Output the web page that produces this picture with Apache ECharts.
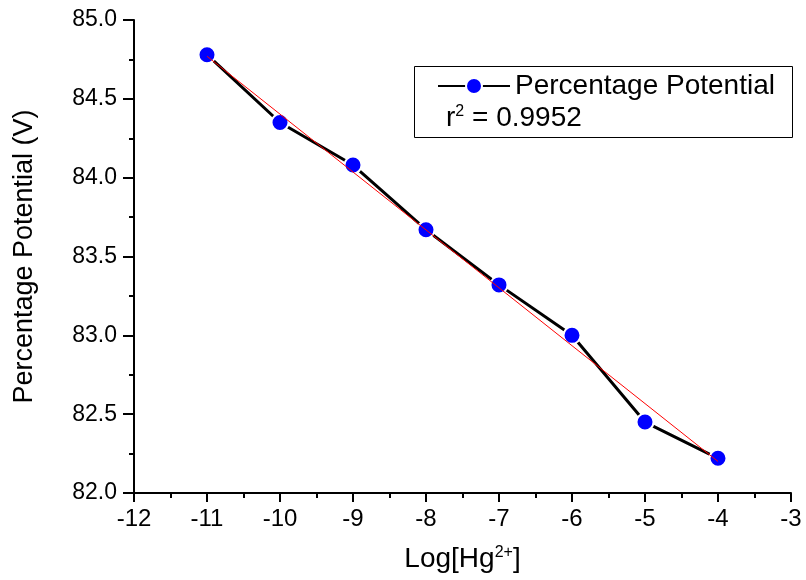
<!DOCTYPE html>
<html>
<head>
<meta charset="utf-8">
<script src="https://cdn.jsdelivr.net/npm/echarts@6/dist/echarts.min.js"></script>
<style>
  html, body { margin: 0; padding: 0; background: #fff; }
  #chart { width: 806px; height: 580px; }
</style>
</head>
<body>
<div id="chart"></div>
<script>
// values
const logHg = [-11, -10, -9, -8, -7, -6, -5, -4];
const potential = [84.78, 84.35, 84.08, 83.67, 83.32, 83.00, 82.45, 82.22];
// linear fit drawn in red (end points)
const fitX = [-11, -4];
const fitY = [84.77, 82.20];
const rSquared = '0.9952';

const font = 'Liberation Sans, Arial, sans-serif';

const chart = echarts.init(document.getElementById('chart'));

const option = {
    animation: false,
    grid: { left: 134, right: 15, top: 20, bottom: 87 },
    xAxis: {
        type: 'value',
        min: -12,
        max: -3,
        interval: 1,
        name: '{b|Log[Hg}{s|2+}{b|]}',
        nameLocation: 'middle',
        nameGap: 52,
        nameTextStyle: {
            rich: {
                b: { fontFamily: font, fontSize: 28, color: '#000' },
                s: { fontFamily: font, fontSize: 16, color: '#000', verticalAlign: 'top', padding: [0, 0, 12, 0] }
            }
        },
        axisLine: { lineStyle: { color: '#000', width: 2 } },
        axisTick: { show: true, inside: false, length: 9, lineStyle: { color: '#000', width: 2 } },
        minorTick: { show: true, splitNumber: 2, length: 5, lineStyle: { color: '#000', width: 2 } },
        axisLabel: { margin: 14, fontFamily: font, fontSize: 24, color: '#000' },
        splitLine: { show: false }
    },
    yAxis: {
        type: 'value',
        min: 82,
        max: 85,
        interval: 0.5,
        name: 'Percentage Potential (V)',
        nameLocation: 'middle',
        nameGap: 96,
        nameTextStyle: { fontFamily: font, fontSize: 27, color: '#000' },
        axisLine: { show: true, lineStyle: { color: '#000', width: 2 } },
        axisTick: { show: true, inside: false, length: 11, lineStyle: { color: '#000', width: 2 } },
        minorTick: { show: true, splitNumber: 2, length: 5, lineStyle: { color: '#000', width: 2 } },
        axisLabel: {
            margin: 17,
            fontFamily: font,
            fontSize: 23,
            color: '#000',
            formatter: v => v.toFixed(1)
        },
        splitLine: { show: false }
    },
    legend: {
        left: 432,
        top: 67,
        itemWidth: 72,
        itemHeight: 20,
        itemGap: 0,
        data: ['Percentage Potential'],
        textStyle: { fontFamily: font, fontSize: 28, color: '#000', padding: [0, 0, 0, 0] }
    },
    graphic: [
        {
            type: 'rect',
            left: 412,
            top: 64,
            shape: { width: 378, height: 71 },
            style: { fill: 'none', stroke: '#000', lineWidth: 1 },
            z: 10
        },
        {
            type: 'text',
            left: 446,
            top: 104,
            style: {
                text: '{b|r}{s|2}{b| = ' + rSquared + '}',
                rich: {
                    b: { fontFamily: font, fontSize: 28, fill: '#000' },
                    s: { fontFamily: font, fontSize: 16, fill: '#000', verticalAlign: 'top', padding: [0, 0, 12, 0] }
                }
            },
            z: 10
        }
    ],
    series: [
        {
            name: 'Percentage Potential',
            type: 'line',
            data: logHg.map((x, i) => [x, potential[i]]),
            symbol: 'circle',
            symbolSize: 17,
            lineStyle: { color: '#000', width: 3 },
            itemStyle: { color: '#0000ff', borderColor: '#fff', borderWidth: 2 },
            z: 2
        },
        {
            name: 'fit',
            type: 'line',
            data: fitX.map((x, i) => [x, fitY[i]]),
            symbol: 'none',
            lineStyle: { color: '#ff0000', width: 1 },
            z: 3
        }
    ]
};

chart.setOption(option);
</script>
</body>
</html>
